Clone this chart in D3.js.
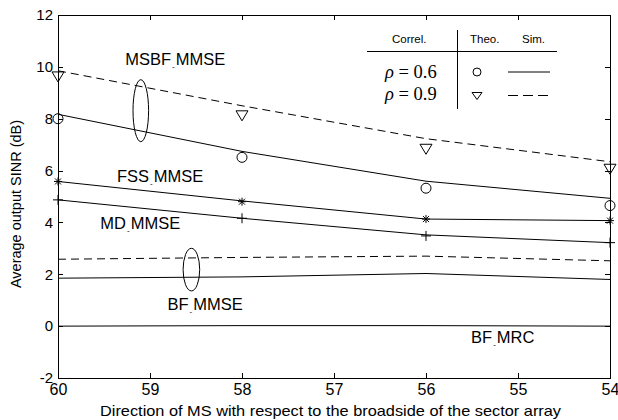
<!DOCTYPE html>
<head>
<meta charset="utf-8">
<title>Average output SINR</title>
<script type="text/javascript" src="https://cdn.jsdelivr.net/npm/d3@7/dist/d3.min.js"></script>
<style>
	body { margin: 0; background: #fff; }
	text { font-family: "Liberation Sans", Arial, sans-serif; fill: #000; }
	.axis text { font-size: 15px; }
	.axis path, .axis line { fill: none; stroke: #000; shape-rendering: crispEdges; }
</style>
</head>

<body>
<script>
var width = 618;
var height = 420;
var margin = {top: 15, bottom: 42, left: 58, right: 8};

// data
var dirs = [60, 58, 56, 54];
var msbfSim06  = [8.17, 6.74, 5.59, 4.93];
var msbfSim09  = [9.85, 8.50, 7.23, 6.34];
var msbfTheo06 = [8.00, 6.51, 5.32, 4.65];
var msbfTheo09 = [9.65, 8.15, 6.86, 6.09];
var fssSim  = [5.58, 4.83, 4.13, 4.07];
var fssTheo = [5.58, 4.80, 4.13, 4.07];
var mdSim  = [4.87, 4.16, 3.52, 3.22];
var mdTheo = [4.87, 4.16, 3.48, 3.22];
var bfSim06 = [1.85, 1.90, 2.03, 1.80];
var bfSim09 = [2.58, 2.65, 2.70, 2.52];
var mrcSim  = [0.00, 0.02, 0.02, 0.00];
var xTicks = [60, 59, 58, 57, 56, 55, 54];
var yTicks = [-2, 0, 2, 4, 6, 8, 10, 12];

var svg = d3.select('body').append('svg')
	.attr('width', width)
	.attr('height', height);

var x = d3.scaleLinear().domain([60, 54]).range([margin.left, width - margin.right]);
var y = d3.scaleLinear().domain([-2, 12]).range([height - margin.bottom, margin.top]);

// axes (matlab style box, ticks inside)
var bottomAxis = svg.append('g').attr('class', 'axis')
	.attr('transform', 'translate(0,' + y(-2) + ')')
	.call(d3.axisBottom(x).tickValues(xTicks).tickSizeInner(-5).tickSizeOuter(0).tickPadding(6).tickFormat(function(d) { return String(d); }));
bottomAxis.selectAll('text').style('font-size', '16px');
svg.append('g').attr('class', 'axis')
	.attr('transform', 'translate(0,' + y(12) + ')')
	.call(d3.axisTop(x).tickValues(xTicks).tickSizeInner(-5).tickSizeOuter(0).tickFormat(''));
svg.append('g').attr('class', 'axis')
	.attr('transform', 'translate(' + x(60) + ',0)')
	.call(d3.axisLeft(y).tickValues(yTicks).tickSizeInner(-5).tickSizeOuter(0).tickPadding(5).tickFormat(function(d) { return String(d); }));
svg.append('g').attr('class', 'axis')
	.attr('transform', 'translate(' + x(54) + ',0)')
	.call(d3.axisRight(y).tickValues(yTicks).tickSizeInner(-5).tickSizeOuter(0).tickFormat(''));

// axis titles
svg.append('text')
	.attr('x', 100)
	.attr('y', 416)
	.attr('textLength', 461)
	.attr('lengthAdjust', 'spacingAndGlyphs')
	.style('font-size', '15px')
	.text('Direction of MS with respect to the broadside of the sector array');
svg.append('text')
	.attr('transform', 'translate(21,' + 204 + ') rotate(-90)')
	.attr('text-anchor', 'middle')
	.style('font-size', '14.5px')
	.text('Average output SINR (dB)');

// lines
var line = d3.line().x(function(d) { return x(d[0]); }).y(function(d) { return y(d[1]); });
function pairs(vals) { return dirs.map(function(dx, i) { return [dx, vals[i]]; }); }

var sims = [
	[msbfSim06, false], [msbfSim09, true], [fssSim, false], [mdSim, false],
	[bfSim06, false], [bfSim09, true], [mrcSim, false]
];
sims.forEach(function(s) {
	svg.append('path')
		.attr('d', line(pairs(s[0])))
		.attr('fill', 'none')
		.attr('stroke', '#000')
		.attr('stroke-width', 1)
		.attr('stroke-dasharray', s[1] ? '8,5' : null);
});

// markers
var sym = {
	circle: function(g) { g.append('circle').attr('r', 5); },
	tri: function(g) { g.append('path').attr('d', 'M-6,-4L6,-4L0,6Z'); },
	star: function(g) { g.append('path').attr('d', 'M-4,0L4,0M0,-4L0,4M-3,-3L3,3M-3,3L3,-3'); },
	plus: function(g) { g.append('path').attr('d', 'M-5,0L5,0M0,-5L0,5'); }
};
function markers(vals, kind) {
	pairs(vals).forEach(function(d) {
		var g = svg.append('g')
			.attr('transform', 'translate(' + x(d[0]) + ',' + y(d[1]) + ')')
			.attr('fill', 'none').attr('stroke', '#000').attr('stroke-width', 1);
		sym[kind](g);
	});
}
markers(msbfTheo06, 'circle');
markers(msbfTheo09, 'tri');
markers(fssTheo, 'star');
markers(mdTheo, 'plus');

// curve labels
var annots = [
	{name: 'MSBF_MMSE', dx: 59.27, dy: 10.07},
	{name: 'FSS_MMSE',  dx: 59.36, dy: 5.57},
	{name: 'MD_MMSE',   dx: 59.54, dy: 3.74},
	{name: 'BF_MMSE',   dx: 58.81, dy: 0.62},
	{name: 'BF_MRC',    dx: 55.51, dy: -0.64}
];
annots.forEach(function(a) {
	var parts = a.name.split('_');
	var t = svg.append('text')
		.attr('x', x(a.dx)).attr('y', y(a.dy))
		.style('font-size', '16.5px');
	t.append('tspan').text(parts[0]);
	t.append('tspan').attr('dx', 1).attr('dy', 4).style('font-size', '8px').text('-');
	t.append('tspan').attr('dx', 1).attr('dy', -4).text(parts[1]);
});

// grouping ellipses
var ellipses = [
	{dx: 59.10, dy: 8.31, rx: 7.8, ry: 31},
	{dx: 58.55, dy: 2.18, rx: 8.3, ry: 21.3}
];
ellipses.forEach(function(e) {
	svg.append('ellipse')
		.attr('cx', x(e.dx)).attr('cy', y(e.dy))
		.attr('rx', e.rx).attr('ry', e.ry)
		.attr('fill', 'none').attr('stroke', '#000');
});

// legend table
var lg = svg.append('g');
lg.append('line').attr('x1', 367).attr('x2', 557).attr('y1', 51.5).attr('y2', 51.5).attr('stroke', '#000');
lg.append('line').attr('x1', 457.5).attr('x2', 457.5).attr('y1', 30).attr('y2', 109).attr('stroke', '#000');
lg.append('text').attr('x', 392).attr('y', 43).style('font-size', '11.5px').text('Correl.');
lg.append('text').attr('x', 470).attr('y', 43).style('font-size', '11.5px').text('Theo.');
lg.append('text').attr('x', 522).attr('y', 43).style('font-size', '11.5px').text('Sim.');
var rhos = ['0.6', '0.9'];
rhos.forEach(function(r, i) {
	var ty = 78 + i * 22;
	var t = lg.append('text').attr('x', 385).attr('y', ty)
		.style('font-family', '"Liberation Serif", "Times New Roman", serif')
		.style('font-size', '18.5px');
	t.append('tspan').style('font-style', 'italic').text('\u03c1');
	t.append('tspan').text(' = ' + r);
	var cy = 72 + i * 23.5;
	var g = lg.append('g').attr('transform', 'translate(477,' + cy + ')')
		.attr('fill', 'none').attr('stroke', '#000');
	if (i === 0) g.append('circle').attr('r', 4);
	else g.append('path').attr('d', 'M-5,-3L5,-3L0,4Z');
	lg.append('line').attr('x1', 508).attr('x2', 550).attr('y1', cy).attr('y2', cy)
		.attr('stroke', '#000').attr('stroke-dasharray', i === 0 ? null : '10,5');
});
</script>
</body>
